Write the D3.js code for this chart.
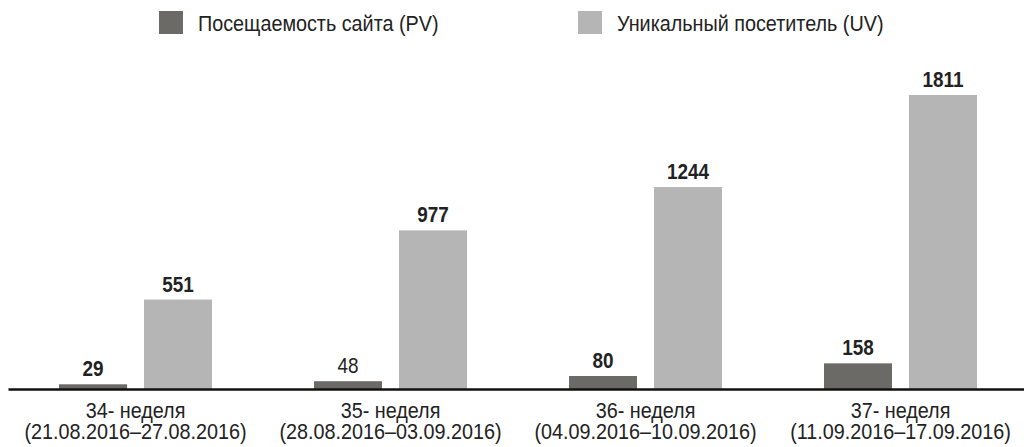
<!DOCTYPE html>
<html>
<head>
<meta charset="utf-8">
<script src="https://cdn.jsdelivr.net/npm/d3@7"></script>
<style>
  body { margin: 0; background: #fff; }
  svg { display: block; font-family: "Liberation Sans", Arial, sans-serif; }
</style>
</head>
<body>
<svg id="chart"></svg>
<script>
const weeks = ["34- неделя", "35- неделя", "36- неделя", "37- неделя"]
const ranges = ["(21.08.2016–27.08.2016)", "(28.08.2016–03.09.2016)", "(04.09.2016–10.09.2016)", "(11.09.2016–17.09.2016)"]
const seriesNames = ["Посещаемость сайта (PV)", "Уникальный посетитель (UV)"]
const pvValues = [29, 48, 80, 158]
const uvValues = [551, 977, 1244, 1811]

const width = 1024
const height = 447
const colors = ["#6b6a66", "#b5b5b5"]
const narrow = 0.9   // squeeze text horizontally, the original uses a narrow face

const svg = d3.select('#chart').attr('width', width).attr('height', height)

// scales
const x0 = d3.scaleBand().domain(weeks).range([8, 1028]).padding(0)
const x1 = d3.scaleBand().domain([0, 1]).range([51, 204]).paddingInner(0.2).paddingOuter(0)
const y = d3.scaleLinear().domain([0, 1811]).range([389, 95])

const rows = weeks.map((w, i) => ({ week: w, range: ranges[i], vals: [pvValues[i], uvValues[i]] }))

// bars
const groups = svg.selectAll('.grp').data(rows).enter().append('g')
  .attr('transform', d => `translate(${x0(d.week)},0)`)

groups.selectAll('rect').data(d => d.vals.map((v, k) => ({ v, k }))).enter().append('rect')
  .attr('x', d => x1(d.k))
  .attr('width', x1.bandwidth())
  .attr('y', d => y(d.v))
  .attr('height', d => y(0) - y(d.v))
  .style('fill', d => colors[d.k])

groups.selectAll('.label').data((d, i) => d.vals.map((v, k) => ({ v, k, i }))).enter().append('text')
  .attr('transform', d => `translate(${x1(d.k) + x1.bandwidth() / 2},${y(d.v) - 8}) scale(0.86,1)`)
  .attr('text-anchor', 'middle')
  .attr('font-size', '22px')
  .attr('font-weight', d => (d.k === 0 && d.i === 1) ? 'normal' : 'bold')
  .style('fill', '#222')
  .text(d => d.v)

// axis
const axis = svg.append('g').attr('transform', `translate(0,${y(0)})`)
  .call(d3.axisBottom(x0).tickSize(0).tickSizeOuter(0).tickFormat(''))
axis.select('.domain').attr('stroke', '#111').attr('stroke-width', 2.5)

axis.selectAll('.tick').each(function (d, i) {
  const t = d3.select(this).append('text')
    .attr('transform', `scale(${narrow},1)`)
    .attr('text-anchor', 'middle')
    .attr('fill', '#222')
    .attr('font-size', '22px')
  t.append('tspan').attr('x', 0).attr('y', 29).text(d)
  t.append('tspan').attr('x', 0).attr('y', 50).text(ranges[i])
})

// legend
const legendX = [159, 578]
const legend = svg.selectAll('.legend').data(seriesNames).enter().append('g')
  .attr('transform', (d, i) => `translate(${legendX[i]},11)`)
legend.append('rect').attr('width', 24).attr('height', 23).style('fill', (d, i) => colors[i])
legend.append('text')
  .attr('transform', `translate(39,20) scale(${narrow},1)`)
  .attr('font-size', '22px').attr('fill', '#222')
  .text(d => d)
</script>
</body>
</html>
